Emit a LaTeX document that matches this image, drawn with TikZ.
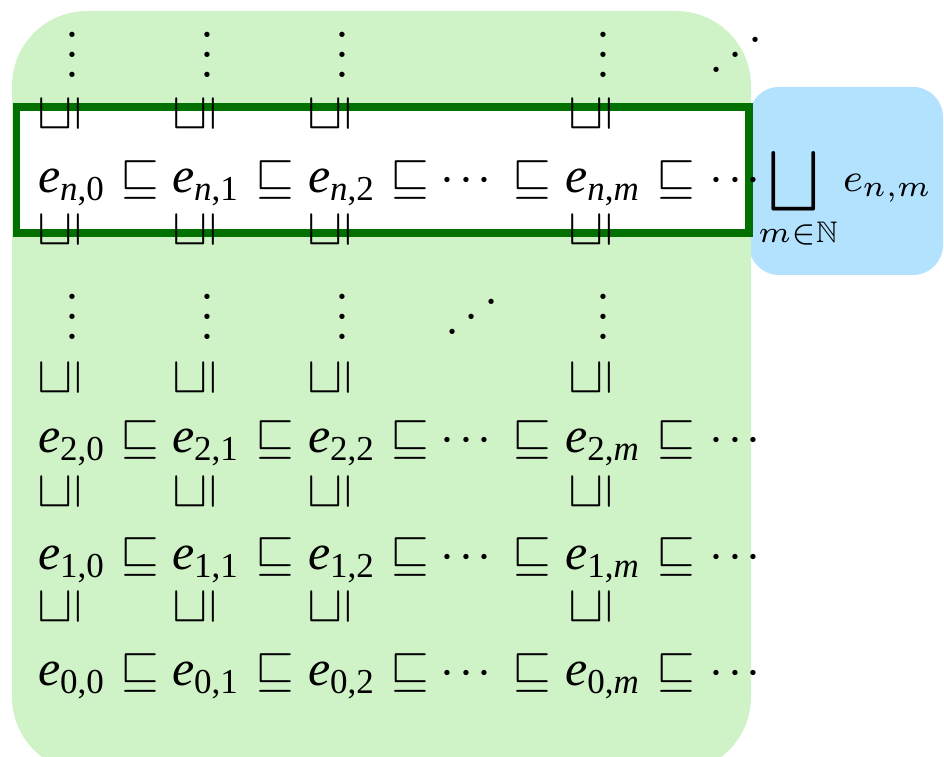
\documentclass[tikz,border=0pt]{standalone}
\usepackage[no-math]{fontspec}
\usepackage{amssymb}
\usepackage{tikz}
\usetikzlibrary{positioning}
\newfontfamily\tms{Liberation Serif}
\definecolor{lgreen}{RGB}{208,242,199}
\definecolor{lblue}{RGB}{179,226,255}
\definecolor{dgreen}{RGB}{0,112,0}
\newcommand{\ent}[2]{\textit{e}\raisebox{-1.6pt}{\fontsize{7}{8}\selectfont #1,#2}}
\newcommand{\cdts}{${\cdotp}\kern1pt{\cdotp}\kern1pt{\cdotp}$}
\newcommand{\vdts}{\vbox{\baselineskip4pt\lineskiplimit0pt\hbox{$.$}\hbox{$.$}\hbox{$.$}}}

\begin{document}
\begin{tikzpicture}[x=0.2pt, y=-0.2pt,
  ent/.style = {anchor=base, inner sep=0pt, font=\tms\fontsize{10}{12}\selectfont},
  rel/.style = {anchor=base, inner sep=0pt},
  vrel/.style = {rotate=90, inner sep=0pt},
  dts/.style = {anchor=base, inner sep=0pt}]
  \clip (0,0) rectangle (944,757);
  \fill[lblue, rounded corners=6pt] (749,87) rectangle (943,275);
  \fill[lgreen, rounded corners=15pt] (12,11) rectangle (751,772);
  \draw[dgreen, line width=1.5pt, fill=white] (16.5,107) rectangle (749,233);

  % row n
  \node[ent] (n0) at (71,193) {\ent{\textit{n}}{0}};
  \node[rel] (sn1) at (140,193) {$\sqsubseteq$};
  \node[ent] (n1) at (205,193) {\ent{\textit{n}}{1}};
  \node[rel] (sn2) at (275,193) {$\sqsubseteq$};
  \node[ent] (n2) at (341,193) {\ent{\textit{n}}{2}};
  \node[rel] (sn3) at (410,193) {$\sqsubseteq$};
  \node[dts] (cn1) at (466,193) {\cdts};
  \node[rel] (sn4) at (532,193) {$\sqsubseteq$};
  \node[ent] (nm) at (602,193) {\ent{\textit{n}}{\textit{m}}};
  \node[rel] (sn5) at (676,193) {$\sqsubseteq$};
  \node[dts] (cn2) at (735,193) {\cdts};

  % rows 2, 1, 0
  \foreach \r/\y in {2/453, 1/569, 0/685} {
    \node[ent] (e\r-0) at (71,\y) {\ent{\r}{0}};
    \node[rel] (s\r-1) at (140,\y) {$\sqsubseteq$};
    \node[ent] (e\r-1) at (205,\y) {\ent{\r}{1}};
    \node[rel] (s\r-2) at (275,\y) {$\sqsubseteq$};
    \node[ent] (e\r-2) at (341,\y) {\ent{\r}{2}};
    \node[rel] (s\r-3) at (410,\y) {$\sqsubseteq$};
    \node[dts] (c\r-1) at (466,\y) {\cdts};
    \node[rel] (s\r-4) at (532,\y) {$\sqsubseteq$};
    \node[ent] (e\r-m) at (602,\y) {\ent{\r}{\textit{m}}};
    \node[rel] (s\r-5) at (676,\y) {$\sqsubseteq$};
    \node[dts] (c\r-2) at (735,\y) {\cdts};
  }

  % vertical order between rows
  \foreach \x in {60,195,330,591}
    \foreach \y in {114,230,378,492,607}
      \node[vrel] (v\x-\y) at (\x,\y) {$\sqsubseteq$};

  % dots
  \foreach \x in {72,207,342,603} {
    \node[dts] (vt\x) at (\x,77.5) {\vdts};
    \node[dts] (vm\x) at (\x,339.5) {\vdts};
  }
  \node[dts] (dt) at (736,77.5) {\reflectbox{$\ddots$}};
  \node[dts] (dm) at (472,339.5) {\reflectbox{$\ddots$}};

  % supremum of row n
  \node[inner sep=0pt, font=\fontsize{8.5}{10}\selectfont] (sq) at (794,181.5) {$\displaystyle\bigsqcup$};
  \node[inner sep=0pt, font=\fontsize{8.5}{10}\selectfont] (idx) at (798,234) {$\scriptstyle m\in\mathbb{N}$};
  \node[anchor=base west, inner sep=0pt, font=\fontsize{8.5}{10}\selectfont] (enm) at (842,192) {$e_{n,m}$};
\end{tikzpicture}
\end{document}
